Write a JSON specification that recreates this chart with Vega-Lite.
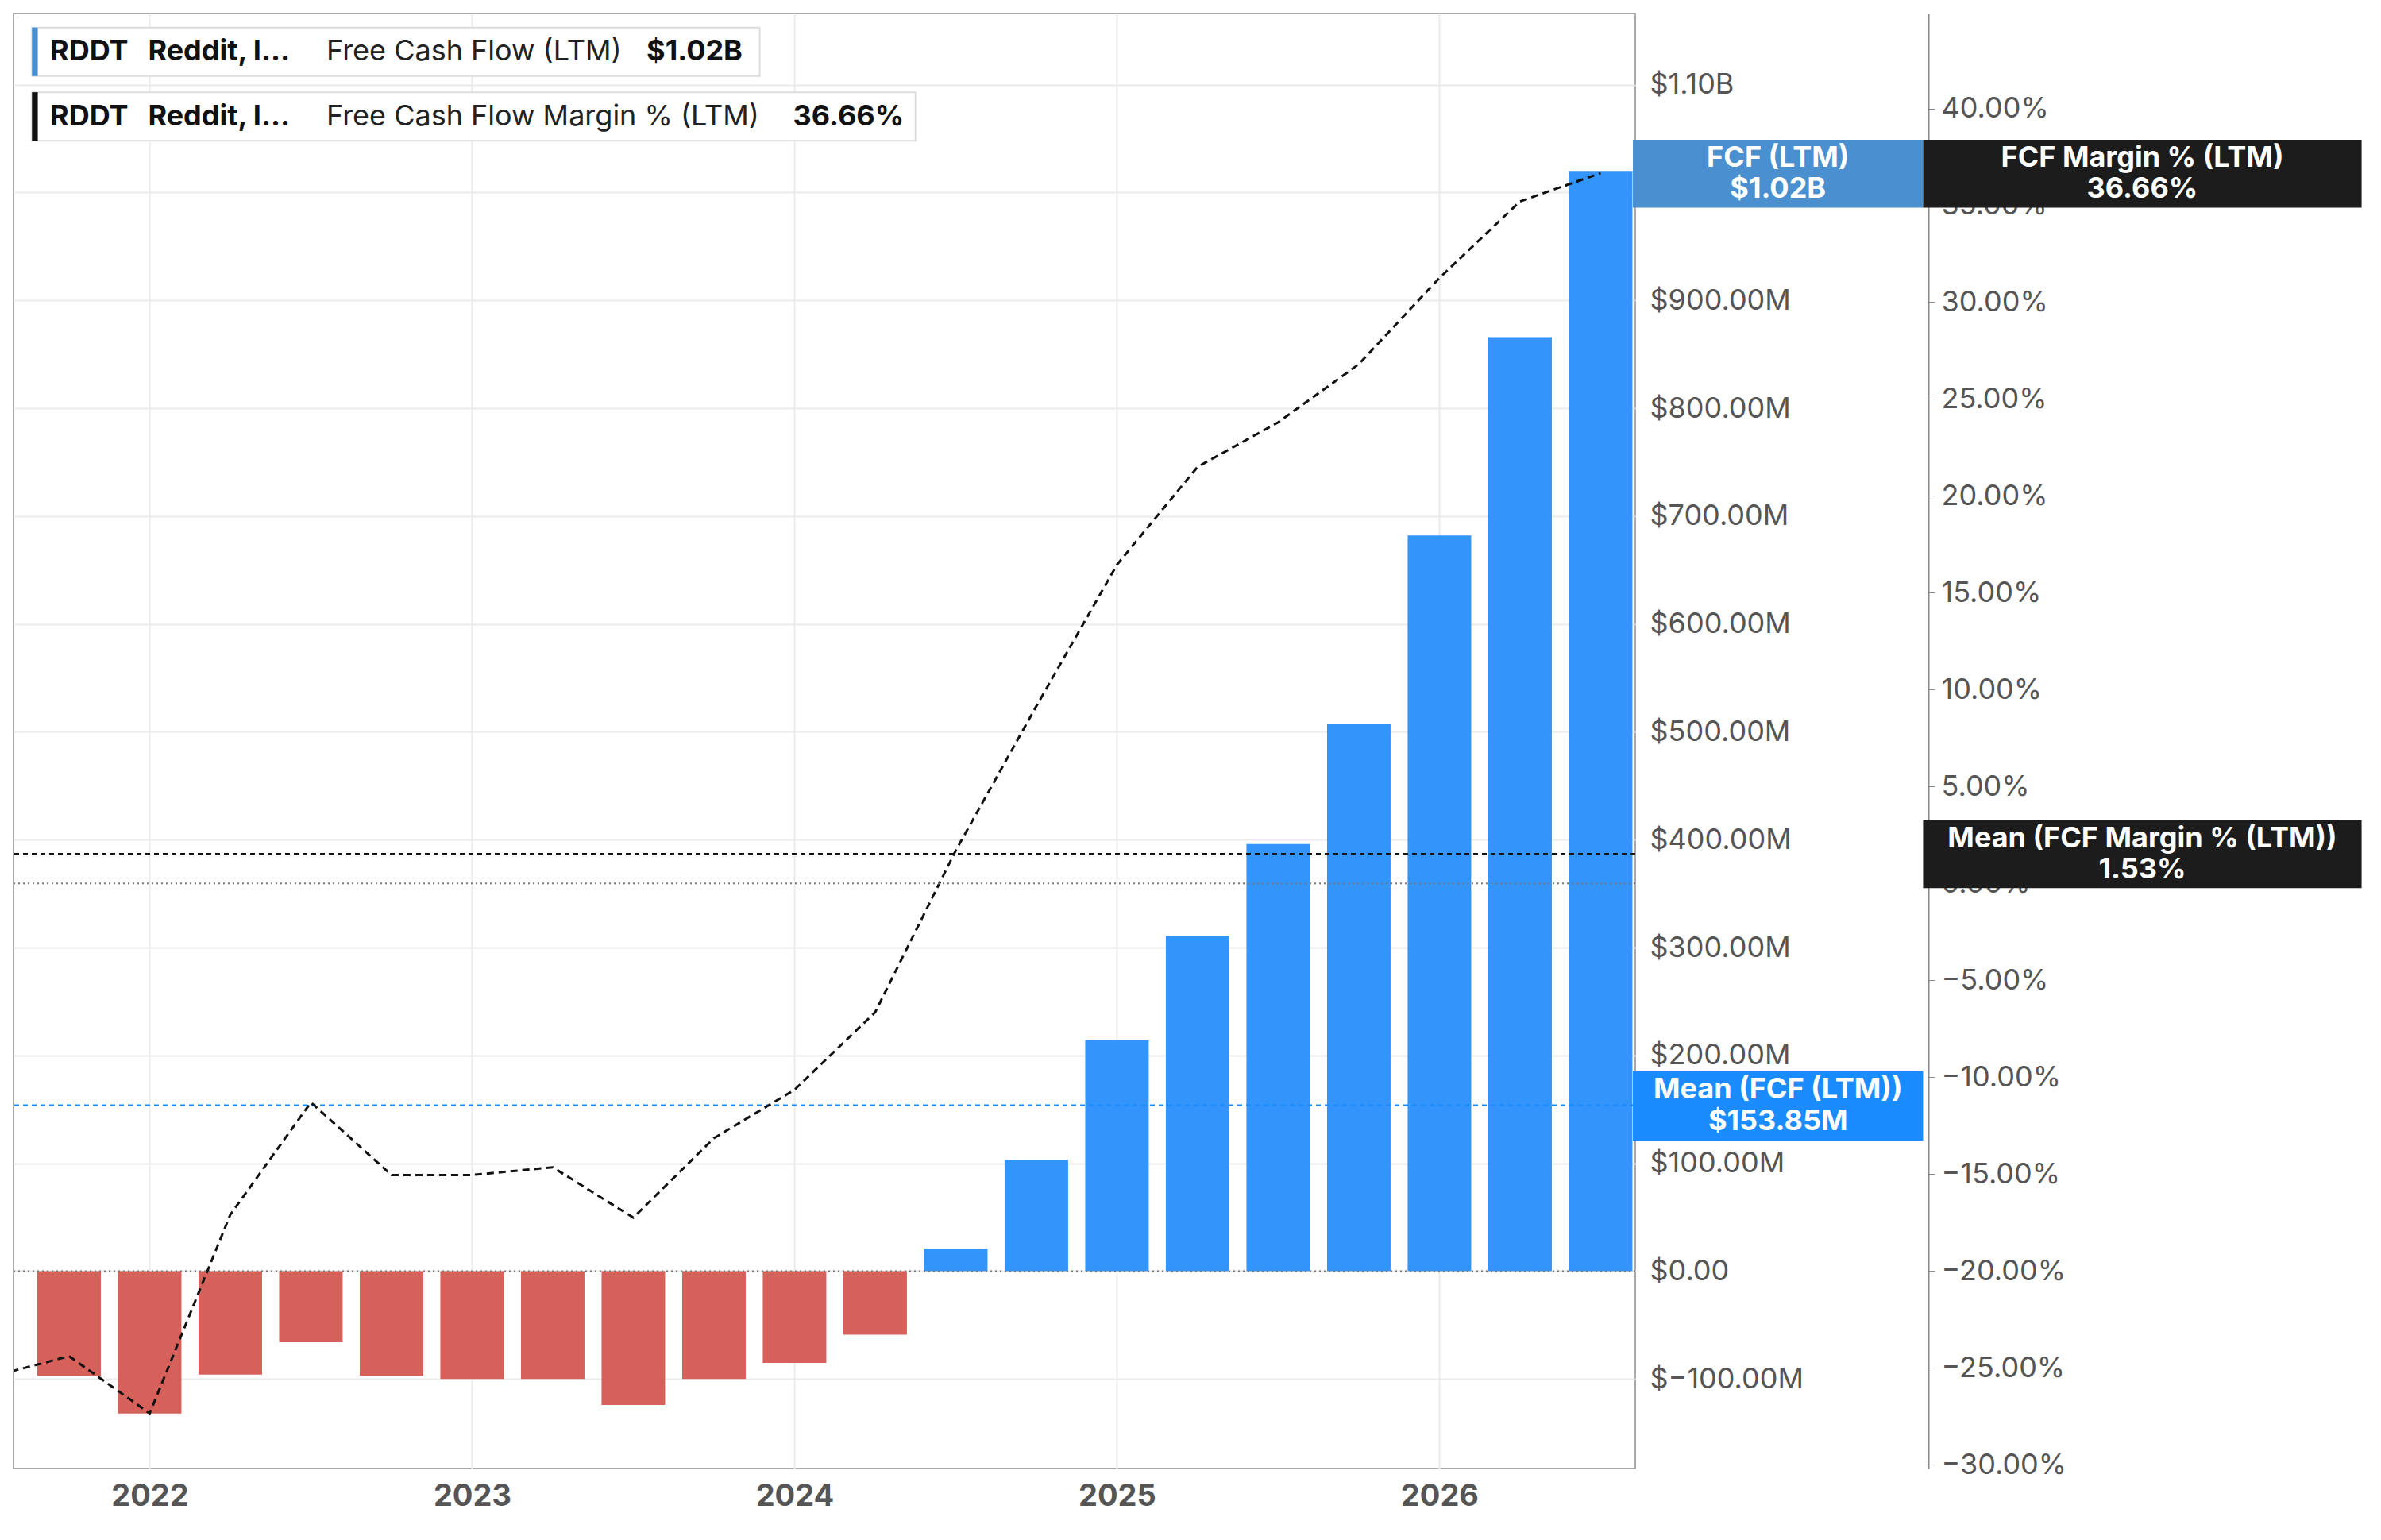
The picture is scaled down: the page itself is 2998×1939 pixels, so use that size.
{
"$schema":"https://vega.github.io/schema/vega-lite/v6.json",
"width":2042,"height":1832,"autosize":{"type":"none"},
"padding":{"left":17,"top":17,"right":939,"bottom":90},
"background":"white",
"config":{"font":"Inter","view":{"stroke":"#aaaaaa","strokeWidth":2}},
"datasets":{
"fcf":[{"q":2021.75,"v":-97},{"q":2022.0,"v":-132},{"q":2022.25,"v":-96},{"q":2022.5,"v":-66},{"q":2022.75,"v":-97},{"q":2023.0,"v":-100},{"q":2023.25,"v":-100},{"q":2023.5,"v":-124},{"q":2023.75,"v":-100},{"q":2024.0,"v":-85},{"q":2024.25,"v":-59},{"q":2024.5,"v":21},{"q":2024.75,"v":103},{"q":2025.0,"v":214},{"q":2025.25,"v":311},{"q":2025.5,"v":396},{"q":2025.75,"v":507},{"q":2026.0,"v":682},{"q":2026.25,"v":866},{"q":2026.5,"v":1020}],
"margin":[{"q":2021.5,"m":-25.5},{"q":2021.75,"m":-24.4},{"q":2022.0,"m":-27.35},{"q":2022.25,"m":-17.1},{"q":2022.5,"m":-11.3},{"q":2022.75,"m":-15.05},{"q":2023.0,"m":-15.05},{"q":2023.25,"m":-14.65},{"q":2023.5,"m":-17.25},{"q":2023.75,"m":-13.15},{"q":2024.0,"m":-10.65},{"q":2024.25,"m":-6.65},{"q":2024.5,"m":1.7},{"q":2024.75,"m":9.15},{"q":2025.0,"m":16.45},{"q":2025.25,"m":21.5},{"q":2025.5,"m":23.8},{"q":2025.75,"m":26.8},{"q":2026.0,"m":31.25},{"q":2026.25,"m":35.2},{"q":2026.5,"m":36.66}],
"boxes":[
{"x1":2026.6,"x2":2027.5,"y1":986,"y2":1049,"c":"#4a8fd0","s":"none"},
{"x1":2027.5,"x2":2028.86,"y1":986,"y2":1049,"c":"#1c1c1c","s":"none"},
{"x1":2026.6,"x2":2027.5,"y1":121,"y2":186,"c":"#1a8cff","s":"none"},
{"x1":2027.5,"x2":2028.86,"y1":355,"y2":418,"c":"#1c1c1c","s":"none"},
{"x1":2021.635,"x2":2023.892,"y1":1108,"y2":1153,"c":"white","s":"#dddddd"},
{"x1":2021.635,"x2":2024.375,"y1":1048,"y2":1093,"c":"white","s":"#dddddd"},
{"x1":2021.635,"x2":2021.653,"y1":1108,"y2":1153,"c":"#4a8fd0","s":"none"},
{"x1":2021.635,"x2":2021.653,"y1":1048,"y2":1093,"c":"#111111","s":"none"}],
"tags":[
{"x":2027.05,"y":1032,"t":"FCF (LTM)"},
{"x":2027.05,"y":1003,"t":"$1.02B"},
{"x":2028.18,"y":1032,"t":"FCF Margin % (LTM)"},
{"x":2028.18,"y":1003,"t":"36.66%"},
{"x":2027.05,"y":168,"t":"Mean (FCF (LTM))"},
{"x":2027.05,"y":139,"t":"$153.85M"},
{"x":2028.18,"y":401,"t":"Mean (FCF Margin % (LTM))"},
{"x":2028.18,"y":372,"t":"1.53%"}],
"legbold":[
{"x":2021.691,"y":1131,"t":"RDDT"},
{"x":2021.995,"y":1131,"t":"Reddit, I…"},
{"x":2023.541,"y":1131,"t":"$1.02B"},
{"x":2021.691,"y":1070,"t":"RDDT"},
{"x":2021.995,"y":1070,"t":"Reddit, I…"},
{"x":2023.995,"y":1070,"t":"36.66%"}],
"legnorm":[
{"x":2022.548,"y":1131,"t":"Free Cash Flow (LTM)"},
{"x":2022.548,"y":1070,"t":"Free Cash Flow Margin % (LTM)"}]
},
"resolve":{"scale":{"y":"independent"},"axis":{"y":"independent"}},
"layer":[
{"layer":[
{"data":{"name":"fcf"},"mark":{"type":"bar","size":80},
 "encoding":{
  "x":{"field":"q","type":"quantitative","scale":{"domain":[2021.59,2026.595],"nice":false,"zero":false},
   "axis":{"values":[2022,2023,2024,2025,2026],"format":"d","title":null,"labelFontSize":38,"labelFontWeight":"bold","labelColor":"#555555","gridColor":"#ebebeb","gridWidth":2,"ticks":false,"domain":false,"labelPadding":16}},
  "y":{"field":"v","type":"quantitative","scale":{"domain":[-183,1166],"nice":false,"zero":false},
   "axis":{"orient":"right","title":null,"values":[-100,0,100,200,300,400,500,600,700,800,900,1000,1100],"labelExpr":"datum.value>=1000?'$'+format(datum.value/1000,'.2f')+'B':(datum.value==0?'$0.00':'$'+format(datum.value,'.2f')+'M')","labelFontSize":36,"labelColor":"#555555","labelLimit":500,"labelOverlap":false,"gridColor":"#ebebeb","gridWidth":2,"ticks":false,"domain":false,"labelPadding":18}},
  "color":{"condition":{"test":"datum.v<0","value":"#d6605a"},"value":"#3395fb"}}},
{"data":{"values":[{"y":0}]},"mark":{"type":"rule","strokeDash":[2,4],"color":"#777777","strokeWidth":2},"encoding":{"y":{"field":"y","type":"quantitative"}}},
{"data":{"values":[{"y":153.85}]},"mark":{"type":"rule","strokeDash":[6,5],"color":"#1a8cff","strokeWidth":2},"encoding":{"y":{"field":"y","type":"quantitative"}}},
{"data":{"name":"boxes"},"mark":{"type":"rect","clip":false,"strokeWidth":2},
 "encoding":{"x":{"field":"x1","type":"quantitative"},"x2":{"field":"x2"},"y":{"field":"y1","type":"quantitative"},"y2":{"field":"y2"},"color":{"field":"c","type":"nominal","scale":null},"stroke":{"field":"s","type":"nominal","scale":null}}},
{"data":{"name":"tags"},"mark":{"type":"text","fontSize":36,"fontWeight":"bold","align":"center","baseline":"middle","color":"white","clip":false},
 "encoding":{"x":{"field":"x","type":"quantitative"},"y":{"field":"y","type":"quantitative"},"text":{"field":"t"}}},
{"data":{"name":"legbold"},"mark":{"type":"text","fontSize":36,"fontWeight":"bold","align":"left","baseline":"middle","color":"#111111"},
 "encoding":{"x":{"field":"x","type":"quantitative"},"y":{"field":"y","type":"quantitative"},"text":{"field":"t"}}},
{"data":{"name":"legnorm"},"mark":{"type":"text","fontSize":36,"align":"left","baseline":"middle","color":"#222222"},
 "encoding":{"x":{"field":"x","type":"quantitative"},"y":{"field":"y","type":"quantitative"},"text":{"field":"t"}}}
]},
{"layer":[
{"data":{"name":"margin"},"mark":{"type":"line","clip":true,"color":"#111111","strokeWidth":3,"strokeDash":[9,6]},
 "encoding":{"x":{"field":"q","type":"quantitative"},
  "y":{"field":"m","type":"quantitative","scale":{"domain":[-30.2,44.9],"nice":false,"zero":false},
   "axis":{"orient":"right","offset":369,"title":null,"values":[-30,-25,-20,-15,-10,-5,0,5,10,15,20,25,30,35,40,45],"labelExpr":"format(datum.value,'.2f')+'%'","labelFontSize":36,"labelColor":"#555555","labelOverlap":false,"labelBound":false,"labelFlush":false,"grid":false,"tickSize":8,"tickColor":"#888888","domainColor":"#888888","domainWidth":2,"labelPadding":8}}}},
{"data":{"values":[{"y":0}]},"mark":{"type":"rule","strokeDash":[2,4],"color":"#777777","strokeWidth":2},"encoding":{"y":{"field":"y","type":"quantitative"}}},
{"data":{"values":[{"y":1.53}]},"mark":{"type":"rule","strokeDash":[6,5],"color":"#111111","strokeWidth":2},"encoding":{"y":{"field":"y","type":"quantitative"}}}
]}
]
}
